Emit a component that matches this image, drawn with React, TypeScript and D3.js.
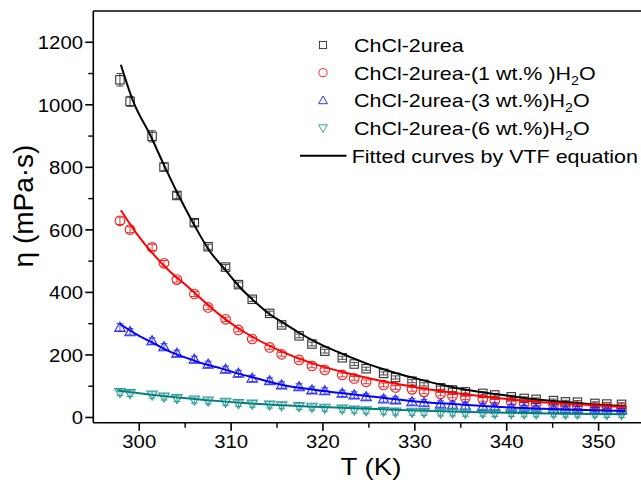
import React from "react";
import * as d3 from "d3";

// ---- data ----
const temps = [297.9, 299.0, 301.4, 302.7, 304.1, 306.0, 307.5, 309.4, 310.8, 312.3, 314.2, 315.5, 317.4, 318.8, 320.2, 322.1, 323.4, 324.7, 326.6, 327.9, 329.7, 331.0, 332.8, 334.1, 335.5, 337.4, 338.7, 340.5, 341.9, 343.2, 345.1, 346.4, 347.7, 349.6, 350.9, 352.5];
const etaPure = [1080, 1011, 899, 801, 710, 623, 546, 481, 425, 378, 333, 296, 261, 235, 212, 191, 171, 156, 141, 128, 116, 106, 95, 88, 82, 77, 72, 66, 61, 58, 54, 50, 49, 45, 43, 42];
const etaW1 = [629, 601, 544, 493, 441, 395, 352, 314, 280, 251, 224, 202, 184, 165, 152, 136, 125, 114, 104, 96, 90, 82, 75, 69, 64, 58, 54, 49, 45, 42, 39, 37, 35, 34, 33, 31];
const etaW3 = [288, 274, 245, 226, 205, 186, 170, 154, 141, 125, 117, 104, 98, 88, 85, 77, 72, 66, 59, 56, 50, 47, 43, 40, 37, 35, 33, 31, 29, 28, 27, 26, 26, 25, 24, 24];
const etaW6 = [80, 77, 72, 66, 61, 56, 53, 49, 45, 43, 40, 38, 35, 33, 30, 27, 24, 22, 20, 18, 17, 16, 15, 15, 14, 14, 13, 13, 12, 12, 12, 11, 11, 11, 10, 10];
const errPure = [20, 16, 18, 12, 10, 10, 8, 8, 8, 7, 7, 6, 6, 6, 6, 5, 5, 5, 5, 5, 5, 5, 5, 5, 5, 5, 5, 5, 5, 5, 5, 5, 5, 5, 5, 5];
const errW1 = [12, 10, 10, 9, 8, 8, 7, 7, 6, 6, 6, 6, 6, 6, 6, 6, 6, 6, 6, 6, 6, 6, 6, 6, 6, 6, 6, 6, 6, 6, 6, 6, 6, 6, 6, 6];
const errW3 = [12, 10, 10, 10, 10, 10, 10, 10, 10, 10, 10, 10, 10, 10, 10, 10, 10, 10, 10, 10, 10, 10, 10, 10, 10, 10, 10, 10, 10, 10, 10, 10, 10, 10, 10, 10];
const errW6 = [10, 10, 10, 10, 10, 10, 10, 10, 10, 10, 10, 10, 10, 10, 10, 10, 10, 10, 10, 10, 10, 10, 10, 10, 10, 10, 10, 10, 10, 10, 10, 10, 10, 10, 10, 10];

const fitTPure = [298.0, 299.3, 301.3, 302.7, 304.1, 306.0, 307.6, 309.4, 310.9, 312.3, 314.2, 315.6, 317.4, 319.2, 321.1, 322.9, 324.7, 326.5, 328.3, 330.1, 333.0, 336.6, 340.3, 343.9, 347.5, 351.2, 352.9];
const fitPure = [1128, 1014, 897, 807, 721, 615, 535, 471, 418, 378, 330, 304, 271, 242, 216, 194, 173, 155, 139, 125, 104, 84, 69, 56, 47, 39, 37];
const fitTW1 = [298.0, 299.8, 301.6, 303.4, 305.3, 307.1, 308.9, 310.7, 312.5, 315.6, 319.2, 322.9, 326.5, 330.1, 333.0, 336.6, 340.3, 343.9, 347.5, 351.2, 352.9];
const fitW1 = [663, 585, 520, 465, 418, 370, 325, 287, 255, 210, 170, 140, 116, 97, 84, 70, 58, 49, 42, 36, 34];
const fitTW3 = [297.9, 299.8, 301.6, 303.4, 305.3, 307.1, 308.9, 310.7, 312.5, 315.6, 319.2, 322.9, 326.5, 330.1, 333.0, 336.6, 340.3, 343.9, 347.5, 352.9];
const fitW3 = [299, 264, 237, 210, 189, 171, 157, 141, 127, 104, 88, 75, 63, 51, 45, 38, 32, 28, 25, 21];
const fitTW6 = [297.6, 299.8, 303.4, 307.1, 310.7, 313.6, 319.2, 326.5, 330.1, 335.0, 340.3, 346.0, 352.9];
const fitW6 = [86, 78, 66, 56, 48, 42, 34, 26, 22, 18, 15, 12, 10];

const xTicks = [300, 310, 320, 330, 340, 350];
const xMinor = [305, 315, 325, 335, 345];
const yTicks = [0, 200, 400, 600, 800, 1000, 1200];
const yMinor = [100, 300, 500, 700, 900, 1100];

const legendLabels = ["ChCl-2urea", "ChCl-2urea-(1 wt.% )H", "ChCl-2urea-(3 wt.%)H", "ChCl-2urea-(6 wt.%)H", "Fitted curves by VTF equation"];

const W = 641, H = 483;
const FONT = "Liberation Sans, Arial, sans-serif";
const SX = 1.13;

const x = d3.scaleLinear().domain([295, 355]).range([93.3, 644.5]);
const y = d3.scaleLinear().domain([-17, 1300]).range([422.8, 11]);

type Sym = "square" | "circle" | "up" | "down";

function Symbol({ cx, cy, kind, color }: { cx: number; cy: number; kind: Sym; color: string }) {
  const s = 4.2;
  if (kind === "square") return <rect x={cx - s} y={cy - s} width={2 * s} height={2 * s} fill="none" stroke={color} strokeWidth={1.1} />;
  if (kind === "circle") return <circle cx={cx} cy={cy} r={4.8} fill="none" stroke={color} strokeWidth={1.1} />;
  const h = 5.2;
  if (kind === "up") return <path d={`M${cx},${cy - h}L${cx + h},${cy + h * 0.75}L${cx - h},${cy + h * 0.75}Z`} fill="none" stroke={color} strokeWidth={1.1} />;
  return <path d={`M${cx},${cy + h}L${cx + h},${cy - h * 0.75}L${cx - h},${cy - h * 0.75}Z`} fill="none" stroke={color} strokeWidth={1.1} />;
}

function SText({ x: tx, y: ty, anchor = "start", size, children, sx = SX }: any) {
  return (
    <g transform={`translate(${tx},${ty}) scale(${sx},1)`}>
      <text x={0} y={0} textAnchor={anchor} fontFamily={FONT} fontSize={size} fill="#000">
        {children}
      </text>
    </g>
  );
}

const series = [
  { vals: etaPure, err: errPure, kind: "square" as Sym, sym: "#333333", line: "#000000", fitT: fitTPure, fit: fitPure },
  { vals: etaW1, err: errW1, kind: "circle" as Sym, sym: "#ee1c1c", line: "#ff0000", fitT: fitTW1, fit: fitW1 },
  { vals: etaW3, err: errW3, kind: "up" as Sym, sym: "#2a2aee", line: "#0000ff", fitT: fitTW3, fit: fitW3 },
  { vals: etaW6, err: errW6, kind: "down" as Sym, sym: "#2f9a94", line: "#008080", fitT: fitTW6, fit: fitW6 },
];

export default function App() {
  const line = d3
    .line<[number, number]>()
    .x((d) => x(d[0]))
    .y((d) => y(d[1]))
    .curve(d3.curveMonotoneX);

  const legX = 323, legY0 = 45, legDy = 27.7, legTextX = 354;
  const LEGFS = 19;

  return (
    <svg width={W} height={H} style={{ position: "absolute", left: 0, top: 0, background: "#fff" }}>
      <rect x={0} y={0} width={W} height={H} fill="#fff" />
      {/* frame */}
      <line x1={x(295)} x2={x(295)} y1={y(1300)} y2={y(-17)} stroke="#000" strokeWidth={1.6} />
      <line x1={x(295)} x2={x(355)} y1={y(-17)} y2={y(-17)} stroke="#000" strokeWidth={1.6} />
      <line x1={x(295)} x2={x(355)} y1={y(1300)} y2={y(1300)} stroke="#000" strokeWidth={1.6} />
      <line x1={x(355)} x2={x(355)} y1={y(1300)} y2={y(-17)} stroke="#000" strokeWidth={1.6} />

      {/* y ticks */}
      {yTicks.map((t) => (
        <g key={"y" + t}>
          <line x1={x(295) - 8} x2={x(295)} y1={y(t)} y2={y(t)} stroke="#000" strokeWidth={1.6} />
          <SText x={83} y={y(t) + 7} anchor="end" size={18}>{t}</SText>
        </g>
      ))}
      {yMinor.map((t) => (
        <line key={"ym" + t} x1={x(295) - 5} x2={x(295)} y1={y(t)} y2={y(t)} stroke="#000" strokeWidth={1.4} />
      ))}
      {/* x ticks */}
      {xTicks.map((t) => (
        <g key={"x" + t}>
          <line x1={x(t)} x2={x(t)} y1={y(-17)} y2={y(-17) + 8} stroke="#000" strokeWidth={1.6} />
          <SText x={x(t)} y={448} anchor="middle" size={18}>{t}</SText>
        </g>
      ))}
      {xMinor.map((t) => (
        <line key={"xm" + t} x1={x(t)} x2={x(t)} y1={y(-17)} y2={y(-17) + 5} stroke="#000" strokeWidth={1.4} />
      ))}

      {/* axis titles */}
      <SText x={371} y={475} anchor="middle" size={24.5}>T (K)</SText>
      <g transform={`translate(33,206) rotate(-90)`}>
        <text x={0} y={0} textAnchor="middle" fontFamily={FONT} fontSize={28} fill="#000">η (mPa·s)</text>
      </g>

      {/* data: error bars and symbols */}
      {series.map((s, si) => (
        <g key={"s" + si}>
          {s.vals.map((v, i) => {
            const cx = x(temps[i]);
            const y1 = y(v + s.err[i]);
            const y2 = y(v - s.err[i]);
            return (
              <g key={i}>
                <line x1={cx} x2={cx} y1={y1} y2={y2} stroke={s.sym} strokeWidth={0.9} />
                <line x1={cx - 3.5} x2={cx + 3.5} y1={y1} y2={y1} stroke={s.sym} strokeWidth={0.9} />
                <line x1={cx - 3.5} x2={cx + 3.5} y1={y2} y2={y2} stroke={s.sym} strokeWidth={0.9} />
                <Symbol cx={cx} cy={y(v)} kind={s.kind} color={s.sym} />
              </g>
            );
          })}
        </g>
      ))}
      {/* fitted curves */}
      {series.map((s, si) => (
        <path key={"f" + si} d={line(s.fitT.map((t, i) => [t, s.fit[i]] as [number, number])) || ""} fill="none" stroke={s.line} strokeWidth={2} />
      ))}

      {/* legend */}
      {series.map((s, i) => (
        <g key={"l" + i}>
          <g transform={`translate(${legX},${legY0 + i * legDy}) scale(0.85)`}>
            <Symbol cx={0} cy={0} kind={s.kind} color={s.sym} />
          </g>
          <g transform={`translate(${legTextX},${legY0 + i * legDy + 7}) scale(${SX},1)`}>
            <text x={0} y={0} fontFamily={FONT} fontSize={LEGFS} fill="#000">
              {legendLabels[i]}
              {i > 0 ? (
                <>
                  <tspan fontSize={12.5} dy={5}>2</tspan>
                  <tspan dy={-5}>O</tspan>
                </>
              ) : null}
            </text>
          </g>
        </g>
      ))}
      <line x1={300} x2={346.5} y1={legY0 + 4 * legDy} y2={legY0 + 4 * legDy} stroke="#000" strokeWidth={2} />
      <g transform={`translate(351.7,${legY0 + 4 * legDy + 7}) scale(${SX},1)`}>
        <text x={0} y={0} fontFamily={FONT} fontSize={LEGFS} fill="#000">{legendLabels[4]}</text>
      </g>
    </svg>
  );
}
